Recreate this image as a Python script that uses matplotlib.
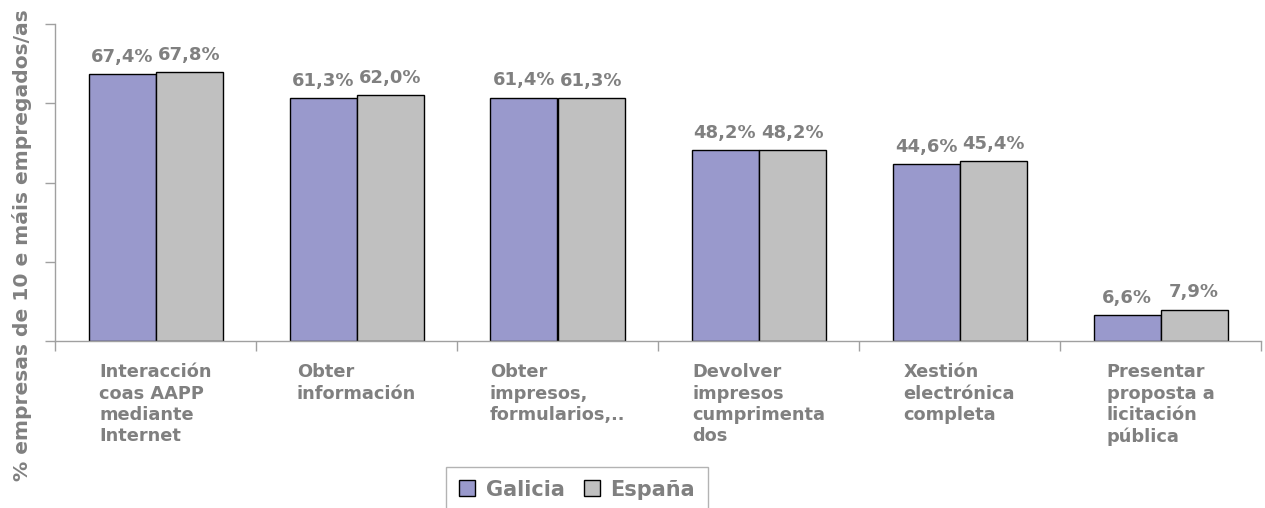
import matplotlib
matplotlib.use("Agg")
import matplotlib.pyplot as plt
import numpy as np

categories = ["Interacción\ncoas AAPP\nmediante\nInternet",
              "Obter\ninformación",
              "Obter\nimpresos,\nformularios,..",
              "Devolver\nimpresos\ncumprimenta\ndos",
              "Xestión\nelectrónica\ncompleta",
              "Presentar\nproposta a\nlicitación\npública"]
galicia = [67.4, 61.3, 61.4, 48.2, 44.6, 6.6]
espana = [67.8, 62.0, 61.3, 48.2, 45.4, 7.9]
series_names = ["Galicia", "España"]
yticks = [0, 20, 40, 60, 80]

GRAY = "#808080"
AXC = "#a0a0a0"
plt.rcParams['font.family'] = ['DejaVu Sans']

fig = plt.figure(figsize=(12.65, 5.08), dpi=100)
ax = fig.add_axes([55/1265, 1-341/508, (1261-55)/1265, (341-24)/508])

x = np.arange(len(categories))
w = 1/3
b1 = ax.bar(x - w/2, galicia, w, color="#9999cc", edgecolor="black", linewidth=1, label=series_names[0])
b2 = ax.bar(x + w/2, espana, w, color="#c0c0c0", edgecolor="black", linewidth=1, label=series_names[1])

for bars, vals in ((b1, galicia), (b2, espana)):
    for r, v in zip(bars, vals):
        ax.annotate(f"{v:.1f}%".replace(".", ","), (r.get_x() + r.get_width()/2, v),
                    xytext=(0, 6), textcoords="offset points", ha="center", va="bottom",
                    fontsize=13, fontweight="bold", color=GRAY)

ax.set_xlim(-0.5, len(categories) - 0.5)
ax.set_ylim(0, 80)
ax.set_yticks(yticks)
ax.set_yticklabels([])
ax.tick_params(axis="y", length=7, color=AXC, width=1)
ax.set_xticks(x)
ax.set_xticklabels(categories, fontsize=12.8, fontweight="bold", color=GRAY,
                   ha="center", va="top", multialignment="left", linespacing=1.24)
ax.tick_params(axis="x", which="major", length=0, pad=16)
ax.set_xticks(np.arange(-0.5, len(categories)), minor=True)
ax.tick_params(axis="x", which="minor", length=7, color=AXC, width=1)

for s in ("top", "right"):
    ax.spines[s].set_visible(False)
for s in ("left", "bottom"):
    ax.spines[s].set_color(AXC)
    ax.spines[s].set_linewidth(1)

fig.text(22/1265, 1-245/508, "% empresas de 10 e máis empregados/as", rotation=90,
         ha="center", va="center", fontsize=14.6, fontweight="bold", color=GRAY)

leg = fig.legend(handles=[b1, b2], labels=series_names, loc="upper center",
                 bbox_to_anchor=(577/1265, 1-467/508), ncol=2, frameon=True, fancybox=False,
                 handlelength=0.8, handleheight=0.8, handletextpad=0.5, columnspacing=0.9,
                 borderpad=0.6, borderaxespad=0, prop={"size": 15, "weight": "bold"})
leg.get_frame().set_edgecolor(AXC)
leg.get_frame().set_linewidth(1)
for t in leg.get_texts():
    t.set_color(GRAY)

fig.savefig("out.png", dpi=100)
